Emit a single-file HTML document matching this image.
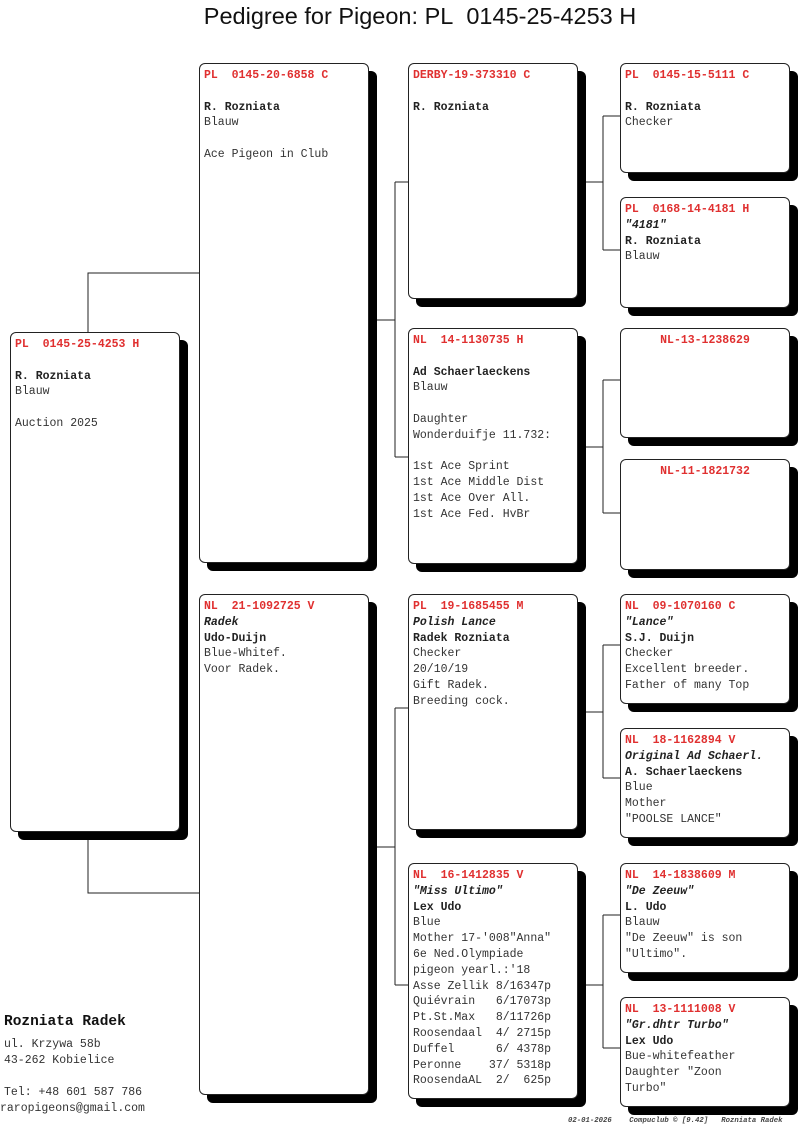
<!DOCTYPE html>
<html><head><meta charset="utf-8"><style>
body{margin:0;width:800px;height:1148px;background:#fff;position:relative;overflow:hidden;font-family:"Liberation Mono",monospace;}
.t{position:absolute;top:3px;left:0;width:840px;text-align:center;font-family:"Liberation Sans",sans-serif;font-size:23.5px;color:#111;}
.b{position:absolute;box-sizing:border-box;border:1px solid #222;border-radius:6px;background:#fff;box-shadow:8px 8px 0 #000;padding:4px 0 0 4px;font-size:11.5px;line-height:15.8px;color:#333;white-space:pre;}
.h{color:#e03030;font-weight:bold;}
.c{text-align:center;display:block;margin-left:-4px;}
.n{font-weight:bold;color:#222;}
.i{font-style:italic;font-weight:bold;color:#222;}
svg{position:absolute;left:0;top:0;}
.f{position:absolute;left:4px;font-size:11.5px;color:#333;line-height:16px;white-space:pre;}
</style></head><body>
<div class="t">Pedigree for Pigeon: PL&nbsp; 0145-25-4253 H</div>
<svg width="800" height="1148"><g stroke="#222" stroke-width="1" fill="none">
<path d="M88 332V273H199M88 840V893H199"/>
<path d="M370 320H395M395 182V457M395 182H408M395 457H408"/>
<path d="M370 847H395M395 708V985M395 708H408M395 985H408"/>
<path d="M580 182H603M603 116V250M603 116H620M603 250H620"/>
<path d="M580 447H603M603 380V513M603 380H620M603 513H620"/>
<path d="M580 712H603M603 645V778M603 645H620M603 778H620"/>
<path d="M580 985H603M603 915V1048M603 915H620M603 1048H620"/>
</g></svg>

<div class="b" style="left:10px;top:332px;width:170px;height:500px"><span class="h">PL  0145-25-4253 H</span>

<span class="n">R. Rozniata</span>
Blauw

Auction 2025</div>

<div class="b" style="left:199px;top:63px;width:170px;height:500px"><span class="h">PL  0145-20-6858 C</span>

<span class="n">R. Rozniata</span>
Blauw

Ace Pigeon in Club</div>

<div class="b" style="left:199px;top:594px;width:170px;height:501px"><span class="h">NL  21-1092725 V</span>
<span class="i">Radek</span>
<span class="n">Udo-Duijn</span>
Blue-Whitef.
Voor Radek.</div>

<div class="b" style="left:408px;top:63px;width:170px;height:236px"><span class="h">DERBY-19-373310 C</span>

<span class="n">R. Rozniata</span></div>

<div class="b" style="left:408px;top:328px;width:170px;height:236px"><span class="h">NL  14-1130735 H</span>

<span class="n">Ad Schaerlaeckens</span>
Blauw

Daughter
Wonderduifje 11.732:

1st Ace Sprint
1st Ace Middle Dist
1st Ace Over All.
1st Ace Fed. HvBr</div>

<div class="b" style="left:408px;top:594px;width:170px;height:236px"><span class="h">PL  19-1685455 M</span>
<span class="i">Polish Lance</span>
<span class="n">Radek Rozniata</span>
Checker
20/10/19
Gift Radek.
Breeding cock.</div>

<div class="b" style="left:408px;top:863px;width:170px;height:236px"><span class="h">NL  16-1412835 V</span>
<span class="i">"Miss Ultimo"</span>
<span class="n">Lex Udo</span>
Blue
Mother 17-'008"Anna"
6e Ned.Olympiade
pigeon yearl.:'18
Asse Zellik 8/16347p
Quiévrain   6/17073p
Pt.St.Max   8/11726p
Roosendaal  4/ 2715p
Duffel      6/ 4378p
Peronne    37/ 5318p
RoosendaAL  2/  625p</div>

<div class="b" style="left:620px;top:63px;width:170px;height:110px"><span class="h">PL  0145-15-5111 C</span>

<span class="n">R. Rozniata</span>
Checker</div>

<div class="b" style="left:620px;top:197px;width:170px;height:111px"><span class="h">PL  0168-14-4181 H</span>
<span class="i">"4181"</span>
<span class="n">R. Rozniata</span>
Blauw</div>

<div class="b" style="left:620px;top:328px;width:170px;height:110px"><span class="h c">NL-13-1238629</span></div>

<div class="b" style="left:620px;top:459px;width:170px;height:111px"><span class="h c">NL-11-1821732</span></div>

<div class="b" style="left:620px;top:594px;width:170px;height:110px"><span class="h">NL  09-1070160 C</span>
<span class="i">"Lance"</span>
<span class="n">S.J. Duijn</span>
Checker
Excellent breeder.
Father of many Top</div>

<div class="b" style="left:620px;top:728px;width:170px;height:110px"><span class="h">NL  18-1162894 V</span>
<span class="i">Original Ad Schaerl.</span>
<span class="n">A. Schaerlaeckens</span>
Blue
Mother
"POOLSE LANCE"</div>

<div class="b" style="left:620px;top:863px;width:170px;height:110px"><span class="h">NL  14-1838609 M</span>
<span class="i">"De Zeeuw"</span>
<span class="n">L. Udo</span>
Blauw
"De Zeeuw" is son
"Ultimo".</div>

<div class="b" style="left:620px;top:997px;width:170px;height:110px"><span class="h">NL  13-1111008 V</span>
<span class="i">"Gr.dhtr Turbo"</span>
<span class="n">Lex Udo</span>
Bue-whitefeather
Daughter "Zoon
Turbo"</div>

<div class="f" style="top:1014px;font-size:14.5px;font-weight:bold;color:#111">Rozniata Radek</div>
<div class="f" style="top:1037px">ul. Krzywa 58b
43-262 Kobielice

Tel: +48 601 587 786</div>
<div class="f" style="top:1101px;left:0">raropigeons@gmail.com</div>
<div style="position:absolute;left:568px;top:1117px;font-size:7.3px;font-style:italic;font-weight:bold;color:#444;white-space:pre;font-family:'Liberation Mono',monospace">02-01-2026    Compuclub © [9.42]   Rozniata Radek</div>
</body></html>
